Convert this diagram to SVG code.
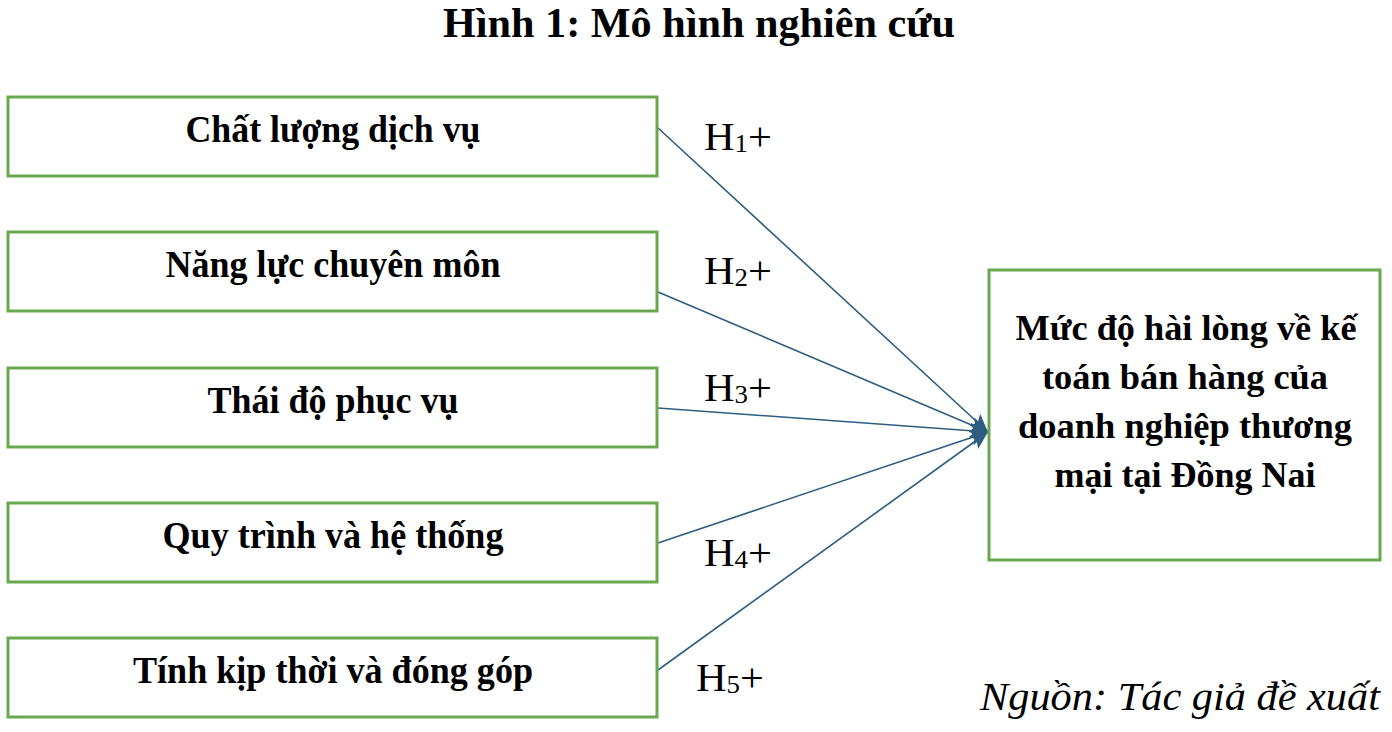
<svg xmlns="http://www.w3.org/2000/svg" width="1392" height="732" viewBox="0 0 1392 732">
<defs>
<style>
.box{fill:#fff;stroke:#6aa84f;stroke-width:3}
.bt{font-family:"Liberation Serif","Times New Roman",serif;font-weight:bold;font-size:37px;fill:#000;text-anchor:middle}
.bt2{font-family:"Liberation Serif","Times New Roman",serif;font-weight:bold;font-size:36px;fill:#000;text-anchor:middle}
.hl{font-family:"Liberation Serif","Times New Roman",serif;font-size:41px;fill:#000}
.sub{font-size:26px}
.conn{stroke:#2f5d80;stroke-width:1.6;fill:none;marker-end:url(#ah)}
</style>
<marker id="ah" markerUnits="userSpaceOnUse" markerWidth="20" markerHeight="18" refX="18" refY="8" orient="auto">
<path d="M0,0 L18,8 L0,16 L4,8 z" fill="#2f5d80"/>
</marker>
</defs>
<rect width="1392" height="732" fill="#fff"/>
<text x="699" y="37" font-family="Liberation Serif, Times New Roman, serif" font-weight="bold" font-size="42" text-anchor="middle" textLength="512" lengthAdjust="spacingAndGlyphs">Hình 1: Mô hình nghiên cứu</text>

<g id="connectors">
<line class="conn" x1="658" y1="128" x2="988" y2="432"/>
<line class="conn" x1="658" y1="292" x2="988" y2="432"/>
<line class="conn" x1="658" y1="408" x2="988" y2="432"/>
<line class="conn" x1="658" y1="543" x2="988" y2="432"/>
<line class="conn" x1="658" y1="670" x2="988" y2="432"/>
</g>

<g id="n1"><rect class="box" x="8" y="97" width="649" height="79"/><text class="bt" x="333" y="142" textLength="295" lengthAdjust="spacingAndGlyphs">Chất lượng dịch vụ</text></g>
<g id="n2"><rect class="box" x="8" y="232" width="649" height="79"/><text class="bt" x="333" y="277" textLength="335" lengthAdjust="spacingAndGlyphs">Năng lực chuyên  môn</text></g>
<g id="n3"><rect class="box" x="8" y="368" width="649" height="79"/><text class="bt" x="333" y="413" textLength="251" lengthAdjust="spacingAndGlyphs">Thái độ phục vụ</text></g>
<g id="n4"><rect class="box" x="8" y="503" width="649" height="79"/><text class="bt" x="333" y="548" textLength="341" lengthAdjust="spacingAndGlyphs">Quy trình và hệ thống</text></g>
<g id="n5"><rect class="box" x="8" y="638" width="649" height="79"/><text class="bt" x="333" y="683" textLength="400" lengthAdjust="spacingAndGlyphs">Tính kịp thời và đóng góp</text></g>

<g id="target"><rect class="box" x="989" y="270" width="391" height="290"/>
<text class="bt2" x="1186" y="340" textLength="341" lengthAdjust="spacingAndGlyphs">Mức độ hài lòng về kế</text>
<text class="bt2" x="1185" y="389" textLength="286" lengthAdjust="spacingAndGlyphs">toán bán hàng của</text>
<text class="bt2" x="1185" y="438" textLength="334" lengthAdjust="spacingAndGlyphs">doanh nghiệp thương</text>
<text class="bt2" x="1185" y="487" textLength="261" lengthAdjust="spacingAndGlyphs">mại tại Đồng Nai</text>
</g>

<g id="labels">
<text class="hl" x="704" y="150" textLength="68" lengthAdjust="spacingAndGlyphs">H<tspan class="sub" dy="2">1</tspan><tspan dy="-2">+</tspan></text>
<text class="hl" x="704" y="284" textLength="68" lengthAdjust="spacingAndGlyphs">H<tspan class="sub" dy="2">2</tspan><tspan dy="-2">+</tspan></text>
<text class="hl" x="704" y="401" textLength="68" lengthAdjust="spacingAndGlyphs">H<tspan class="sub" dy="2">3</tspan><tspan dy="-2">+</tspan></text>
<text class="hl" x="704" y="566" textLength="68" lengthAdjust="spacingAndGlyphs">H<tspan class="sub" dy="2">4</tspan><tspan dy="-2">+</tspan></text>
<text class="hl" x="696" y="691" textLength="68" lengthAdjust="spacingAndGlyphs">H<tspan class="sub" dy="2">5</tspan><tspan dy="-2">+</tspan></text>
</g>

<text x="980" y="710" font-family="Liberation Serif, Times New Roman, serif" font-style="italic" font-size="41" textLength="400" lengthAdjust="spacingAndGlyphs">Nguồn: Tác giả đề xuất</text>
</svg>
